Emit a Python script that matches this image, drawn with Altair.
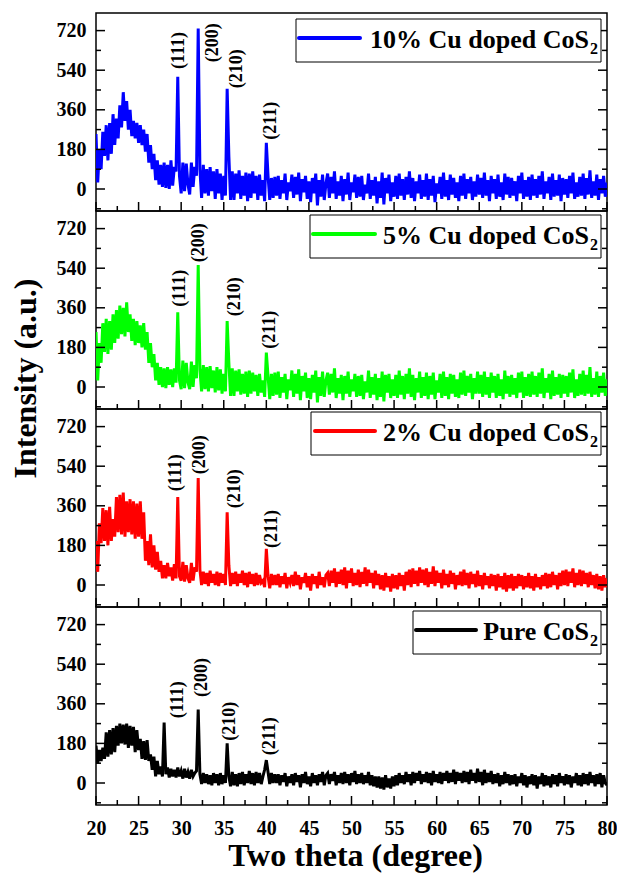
import altair as alt
import pandas as pd

FONT = "Liberation Serif"

# 2-theta sampling grid (degrees), 0.2 deg step from 20 to 80
TWO_THETA = [round(20 + 0.2 * i, 1) for i in range(301)]

NAMES = ["10% Cu doped CoS", "5% Cu doped CoS", "2% Cu doped CoS", "Pure CoS"]
COLORS = ["#0000ff", "#00ff00", "#ff0000", "#000000"]

CU10 = [
    250, 30, 180, 90, 260, 150, 290, 130, 300, 160,
    340, 200, 320, 230, 380, 280, 440, 310, 400, 270,
    360, 240, 310, 230, 300, 210, 290, 200, 270, 170,
    250, 120, 200, 90, 160, 40, 130, 20, 110, 10,
    120, 5, 110, 0, 130, 15, 100, 80, 510, 60,
    -20, 120, -10, 115, 20, -25, 120, 10, 100, 60,
    730, 90, -40, 110, -20, 90, -30, 100, -10, 80,
    -45, 90, -20, 70, -50, 60, -30, 456, 150, -50,
    80, -50, 70, -20, 85, -45, 60, -30, 75, -55,
    70, -40, 80, -20, 60, -50, 65, -30, 40, -55,
    210, 60, -50, 50, -40, 55,
    -30, 60, -45, 40, -20, 70, -50, 30, -10, 65,
    -40, 55, -25, 75, -55, 45, -15, 60, -45, 35,
    -60, 50, -20, 70, -75, 40, -35, 65, -50, 25,
    70, -40, 55, -20, 80, -45, 35, -30, 60, -55,
    45, -25, 75, -50, 30, -15, 65, -40, 55, -35,
    60, -50, 20, -20, 70, -45, 40, -30, 55, -65,
    35, -40, 75, -70, 50, -20, 65, -55, 30, -35,
    60, -45, 70, -30, 45, -50, 55, -25, 80, -40,
    50, -55, 35, -20, 65, -45, 40, -35, 70, -50,
    45, -30, 60, -60, 25, -20, 55, -45, 75, -35,
    40, -50, 65, -25, 50, -40, 30, -55, 60, -30,
    70, -45, 45, -20, 55, -50, 35, -35, 65, -25,
    50, -40, 75, -30, 40, -55, 60, -20, 45, -45,
    65, -35, 30, -50, 70, -25, 55, -40, 50, -30,
    35, -55, 60, -20, 75, -45, 40, -35, 55, -50,
    65, -30, 45, -40, 60, -25, 80, -45, 35, -20,
    55, -50, 70, -35, 40, -30, 65, -55, 50, -25,
    45, -40, 60, -20, 75, -45, 30, -35, 55, -30,
    70, -45, 50, -25, 85, -40, 35, -30, 65, -50,
    45, -20, 60, -35, 30,
]

CU5 = [
    250, 30, 200, 110, 290, 160, 310, 150, 300, 170,
    330, 200, 350, 220, 370, 240, 360, 230, 385, 250,
    330, 210, 310, 190, 300, 200, 280, 180, 290, 170,
    250, 110, 200, 90, 150, 30, 110, 10, 90, 0,
    85, -5, 90, 10, 80, 0, 85, 20, 340, 30,
    -10, 120, -5, 110, 20, -10, 115, 0, 100, 40,
    555, 80, -20, 100, -10, 90, -20, 95, -5, 75,
    -25, 90, -15, 80, -30, 60, -20, 300, 110, -40,
    85, -40, 75, -20, 80, -35, 60, -30, 70, -45,
    75, -30, 65, -20, 55, -40, 60, -25, 30, -45,
    156, 50, -55, 60, -40, 65,
    -35, 70, -50, 45, -25, 60, -55, 35, -15, 75,
    -45, 60, -30, 80, -60, 50, -20, 65, -50, 40,
    -55, 55, -25, 75, -70, 45, -40, 70, -45, 30,
    65, -35, 60, -25, 85, -50, 40, -30, 55, -60,
    50, -30, 70, -45, 35, -20, 60, -45, 50, -40,
    55, -55, 25, -25, 75, -50, 45, -35, 60, -60,
    40, -45, 70, -65, 55, -25, 60, -50, 35, -40,
    55, -50, 75, -35, 50, -55, 60, -30, 85, -45,
    55, -60, 40, -25, 70, -50, 45, -40, 65, -55,
    50, -35, 65, -55, 30, -25, 60, -50, 70, -40,
    45, -55, 60, -30, 55, -45, 35, -50, 65, -35,
    75, -40, 50, -25, 60, -55, 40, -30, 70, -30,
    55, -45, 70, -35, 45, -50, 65, -25, 50, -50,
    60, -40, 35, -55, 75, -30, 50, -45, 55, -35,
    40, -50, 65, -25, 70, -50, 45, -40, 60, -45,
    70, -35, 50, -45, 65, -30, 85, -50, 40, -25,
    60, -55, 75, -40, 45, -35, 60, -50, 55, -30,
    50, -45, 65, -25, 80, -50, 35, -40, 60, -35,
    75, -40, 55, -30, 90, -45, 40, -35, 70, -45,
    50, -25, 65, -40, 35,
]

CU2 = [
    200, 60, 280, 190, 350, 200, 340, 180, 355, 200,
    300, 220, 400, 240, 410, 230, 420, 220, 380, 240,
    390, 230, 380, 210, 370, 220, 380, 210, 330, 110,
    200, 90, 230, 80, 180, 70, 150, 60, 110, 30,
    90, 30, 100, 40, 80, 20, 95, 30, 400, 40,
    20, 105, 15, 90, 30, 10, 100, 20, 80, 60,
    486, 70, 0, 60, 5, 55, -5, 65, 10, 50,
    0, 60, -5, 55, 10, 50, 0, 330, 90, -5,
    55, 5, 60, -5, 50, 10, 65, 0, 55, -10,
    60, 5, 50, -5, 55, 0, 45, 10, 20, -10,
    164, 40, -15, 50, 0, 45,
    0, 50, -10, 40, 5, 55, -15, 35, 10, 45,
    -5, 60, 0, 45, -20, 35, 10, 55, -10, 40,
    -25, 50, 5, 40, -15, 60, 0, 35, -10, 45,
    55, -5, 65, 10, 75, -10, 60, 5, 70, 0,
    80, -15, 65, 10, 75, -5, 55, 0, 70, -10,
    60, 5, 80, -5, 70, 10, 55, -15, 65, 0,
    50, -20, 45, -25, 55, -10, 40, -30, 50, -15,
    45, -20, 55, -5, 45, -25, 60, 0, 70, -10,
    75, 5, 65, -5, 80, 10, 70, 0, 75, -10,
    60, 5, 85, -5, 65, 10, 55, -15, 70, 0,
    50, -10, 65, 5, 55, -20, 45, 0, 60, -5,
    70, 0, 55, -15, 60, 5, 50, -10, 65, -5,
    45, -20, 55, 0, 40, -15, 50, -5, 45, -25,
    50, -10, 40, -20, 55, -30, 45, -15, 50, -25,
    40, -15, 50, -5, 45, -20, 40, -10, 55, -15,
    40, -25, 50, -10, 35, -20, 45, -5, 55, -15,
    50, -10, 60, 0, 45, -20, 55, -5, 65, 0,
    70, -5, 60, 10, 75, -10, 55, 0, 70, -5,
    65, 5, 55, -10, 60, 0, 45, -15, 50, -20,
    40, -25, 45, -10, 30,
]

PURE = [
    170, 90, 150, 100, 160, 110, 230, 120, 240, 130,
    250, 140, 260, 170, 270, 180, 265, 175, 270, 160,
    260, 170, 255, 140, 240, 150, 200, 110, 190, 105,
    195, 100, 130, 60, 120, 30, 100, 40, 75, 30,
    275, 40, 70, 25, 65, 30, 60, 25, 70, 30,
    55, 20, 65, 25, 50, 20, 60, 30, 45, 55,
    334, 40, -5, 45, 0, 40, -5, 35, -10, 45,
    0, 40, -10, 45, -5, 35, 0, 180, 30, -15,
    50, -10, 40, -15, 45, -5, 50, -10, 40, 0,
    55, -5, 45, -10, 50, 0, 45, -5, 30, 60,
    104, 50, -5, 45, 0, 40,
    0, 40, -10, 35, 5, 45, -15, 30, 0, 40,
    -10, 45, 5, 35, -20, 40, 0, 50, -5, 30,
    -15, 45, 0, 35, -10, 40, 5, 50, -10, 35,
    45, -5, 40, 10, 50, -10, 35, 0, 45, -5,
    50, 0, 40, -10, 45, 5, 55, -5, 40, 0,
    45, -5, 35, 0, 50, -10, 35, -15, 30, -20,
    30, -25, 25, -30, 35, -20, 20, -25, 30, -15,
    35, -10, 45, 0, 35, -5, 50, 5, 40, -10,
    50, 0, 45, 10, 55, -5, 40, 5, 50, 0,
    45, -10, 55, 5, 40, 0, 50, -5, 45, 10,
    55, 0, 45, 5, 60, -5, 50, 10, 45, 0,
    55, 5, 50, -5, 60, 10, 45, 0, 65, 5,
    50, -10, 60, 0, 45, 5, 55, -5, 40, 0,
    45, -15, 35, -5, 50, 0, 40, -10, 35, -5,
    40, -15, 30, 0, 45, -10, 35, -20, 30, -5,
    40, -10, 35, -25, 30, -5, 45, -15, 35, -10,
    30, -20, 40, -5, 35, -15, 45, 0, 30, -10,
    40, -5, 35, -20, 30, 0, 45, -10, 35, -15,
    45, -5, 40, -10, 50, 0, 35, -15, 40, -5,
    45, -20, 35, 0, -10,
]

SERIES = [CU10, CU5, CU2, PURE]

# peak labels: text, 2-theta position and intensity of label centre, per panel
PEAK_LABELS = ["(111)", "(200)", "(210)", "(211)"]
LABEL_X = [
    [29.7, 33.7, 36.6, 40.6],
    [29.85, 32.1, 36.3, 40.45],
    [29.45, 32.25, 36.3, 40.7],
    [29.6, 32.4, 35.7, 40.45],
]
LABEL_Y = [
    [629, 665, 547, 310],
    [449, 656, 410, 260],
    [510, 592, 437, 255],
    [378, 480, 281, 213],
]

X_MAJOR = [20, 25, 30, 35, 40, 45, 50, 55, 60, 65, 70, 75, 80]
X_MINOR = [22.5, 27.5, 32.5, 37.5, 42.5, 47.5, 52.5, 57.5, 62.5, 67.5, 72.5, 77.5]
Y_MAJOR = [0, 180, 360, 540, 720]
Y_MINOR = [-90, 90, 270, 450, 630]

W, H = 511, 198

# legend box layout per panel, in pixels measured from the panel's right edge:
# box left edge, sample line start / end; and box top edge from the panel top
LEG_LEFT = [311, 297, 296, 194]
LEG_LINE = [(308, 247), (294, 232), (292, 232), (191, 131)]
LEG_TOP = [6, 4, 3, 4]


def panel(k):
    bottom = k == 3
    df = pd.DataFrame({"x": TWO_THETA, "y": SERIES[k]})
    ann = pd.DataFrame({"x": LABEL_X[k], "y": LABEL_Y[k], "label": PEAK_LABELS})
    xt_major = pd.DataFrame({"v": X_MAJOR})
    xt_minor = pd.DataFrame({"v": X_MINOR})
    yt_major = pd.DataFrame({"v": Y_MAJOR})
    yt_minor = pd.DataFrame({"v": Y_MINOR})
    one = pd.DataFrame({"a": [0]})

    xs = alt.Scale(domain=[20, 80], nice=False, zero=False)
    ys = alt.Scale(domain=[-100, 800], nice=False, zero=False)

    if bottom:
        xaxis = alt.Axis(values=X_MAJOR, ticks=False, tickSize=0, domain=False, grid=False,
                         labelFont=FONT, labelFontWeight="bold", labelFontSize=20,
                         labelColor="black", labelPadding=13, labelFlush=False,
                         labelOverlap=False, title=None)
    else:
        xaxis = None

    ykw = dict(values=Y_MAJOR, ticks=False, tickSize=0, domain=False, grid=False,
               labelFont=FONT, labelFontWeight="bold", labelFontSize=20,
               labelColor="black", labelPadding=10, labelOverlap=False)
    if k == 1:
        yaxis = alt.Axis(title="Intensity (a.u.)", titleFont=FONT, titleFontSize=32,
                         titleFontWeight="bold", titleColor="black", titleAngle=270,
                         titleAlign="center", titleBaseline="bottom", titleX=-54,
                         titleY=167, **ykw)
    else:
        yaxis = alt.Axis(title=None, **ykw)

    line = alt.Chart(df).mark_line(strokeWidth=3, clip=True, color=COLORS[k]).encode(
        x=alt.X("x:Q", scale=xs, axis=xaxis),
        y=alt.Y("y:Q", scale=ys, axis=yaxis),
    )

    def xticks(d, length):
        return alt.Chart(d).mark_rule(color="black", strokeWidth=1.5).encode(
            x=alt.X("v:Q", scale=xs, axis=xaxis),
            y=alt.value(H), y2=alt.value(H - length))

    def yticks(d, x0, x1):
        return alt.Chart(d).mark_rule(color="black", strokeWidth=1.5).encode(
            y=alt.Y("v:Q", scale=ys, axis=yaxis),
            x=alt.value(x0), x2=alt.value(x1))

    ticks = [
        xticks(xt_major, 9), xticks(xt_minor, 5),
        yticks(yt_major, 0, 9), yticks(yt_minor, 0, 5),
        yticks(yt_major, W, W - 9), yticks(yt_minor, W, W - 5),
    ]

    text = alt.Chart(ann).mark_text(angle=270, font=FONT, fontWeight="bold",
                                    fontSize=18, color="black").encode(
        x=alt.X("x:Q", scale=xs, axis=xaxis),
        y=alt.Y("y:Q", scale=ys, axis=yaxis),
        text="label:N",
    )

    top = LEG_TOP[k]
    legend_box = alt.Chart(one).mark_rect(fill="white", stroke="black",
                                          strokeWidth=1).encode(
        x=alt.value(W - LEG_LEFT[k]), x2=alt.value(W - 6),
        y=alt.value(top), y2=alt.value(top + 43))
    legend_line = alt.Chart(one).mark_rule(color=COLORS[k], strokeWidth=4,
                                           strokeCap="round").encode(
        x=alt.value(W - LEG_LINE[k][0]), x2=alt.value(W - LEG_LINE[k][1]),
        y=alt.value(top + 19))
    legend_text = alt.Chart(one).mark_text(text=NAMES[k], font=FONT, fontWeight="bold",
                                           fontSize=26, color="black", align="right",
                                           baseline="alphabetic").encode(
        x=alt.value(W - 18), y=alt.value(top + 29))
    legend_sub = alt.Chart(one).mark_text(text="2", font=FONT, fontWeight="bold",
                                          fontSize=16, color="black", align="left",
                                          baseline="alphabetic").encode(
        x=alt.value(W - 17), y=alt.value(top + 35))

    layers = [line, *ticks, text, legend_box, legend_line, legend_text, legend_sub]
    if bottom:
        layers.append(alt.Chart(one).mark_text(
            text="Two theta (degree)", font=FONT, fontWeight="bold", fontSize=32,
            color="black", align="center", baseline="alphabetic").encode(
            x=alt.value(W / 2 + 4), y=alt.value(H + 61)))
    return alt.layer(*layers).properties(width=W, height=H)


chart = alt.vconcat(*[panel(k) for k in range(4)], spacing=0, bounds="flush").properties(
    padding={"left": 0, "top": 4, "right": -1, "bottom": 0}
).configure_view(stroke="black", strokeWidth=1.5)

chart.save("out.html", embed_options={"renderer": "svg", "actions": False})
